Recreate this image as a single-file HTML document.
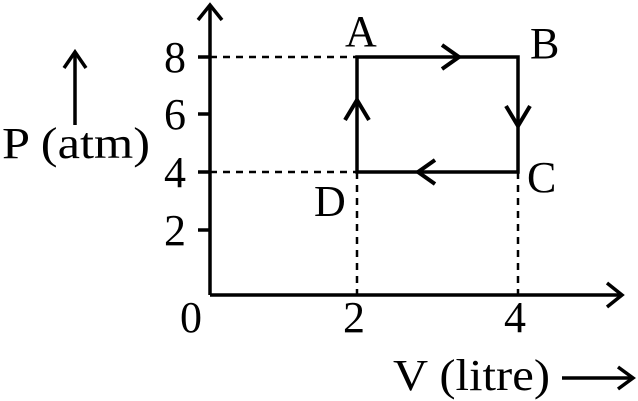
<!DOCTYPE html>
<html><head><style>html,body{margin:0;padding:0;background:#fff;}svg{display:block;}</style></head>
<body>
<svg width="638" height="401" viewBox="0 0 638 401" xmlns="http://www.w3.org/2000/svg" font-family="Liberation Serif, serif" font-size="44" fill="#000">
<g stroke="#000" stroke-width="3.5" fill="none">
<line x1="210" y1="5" x2="210" y2="295"/>
<polyline points="198,20 210,5 222,20"/>
<line x1="210" y1="295" x2="622" y2="295"/>
<polyline points="607,283 622,295 607,307"/>
<line x1="198" y1="57" x2="210" y2="57"/>
<line x1="198" y1="114" x2="210" y2="114"/>
<line x1="198" y1="172" x2="210" y2="172"/>
<line x1="198" y1="230" x2="210" y2="230"/>
<rect x="357" y="57" width="161" height="115"/>
</g>
<g stroke="#000" stroke-width="4" fill="none">
<polyline points="442,45 459,57 442,69"/>
<polyline points="506,106 518,126 530,106"/>
<polyline points="435,160 418,172 435,184"/>
<polyline points="345,120 357,100 369,120"/>
</g>
<g stroke="#000" stroke-width="3.5" fill="none">
<line x1="75" y1="125" x2="75" y2="52"/>
<polyline points="64,68 75,52 86,68"/>
<line x1="562" y1="378" x2="633" y2="378"/>
<polyline points="618,367 633,378 618,389"/>
</g>
<g stroke="#000" stroke-width="2.5" stroke-dasharray="7,6" fill="none">
<line x1="210" y1="57" x2="357" y2="57"/>
<line x1="210" y1="172" x2="357" y2="172"/>
<line x1="357" y1="172" x2="357" y2="295"/>
<line x1="518" y1="172" x2="518" y2="295"/>
</g>
<text x="164" y="72">8</text>
<text x="164" y="129">6</text>
<text x="164" y="187">4</text>
<text x="164" y="245">2</text>
<text x="180" y="332">0</text>
<text x="343" y="332">2</text>
<text x="504" y="332">4</text>
<text x="345" y="46">A</text>
<text x="530" y="58">B</text>
<text x="527" y="192">C</text>
<text x="314" y="216">D</text>
<text x="2" y="158" textLength="148" lengthAdjust="spacingAndGlyphs">P (atm)</text>
<text x="393" y="390" textLength="157" lengthAdjust="spacingAndGlyphs">V (litre)</text>
</svg>
</body></html>
